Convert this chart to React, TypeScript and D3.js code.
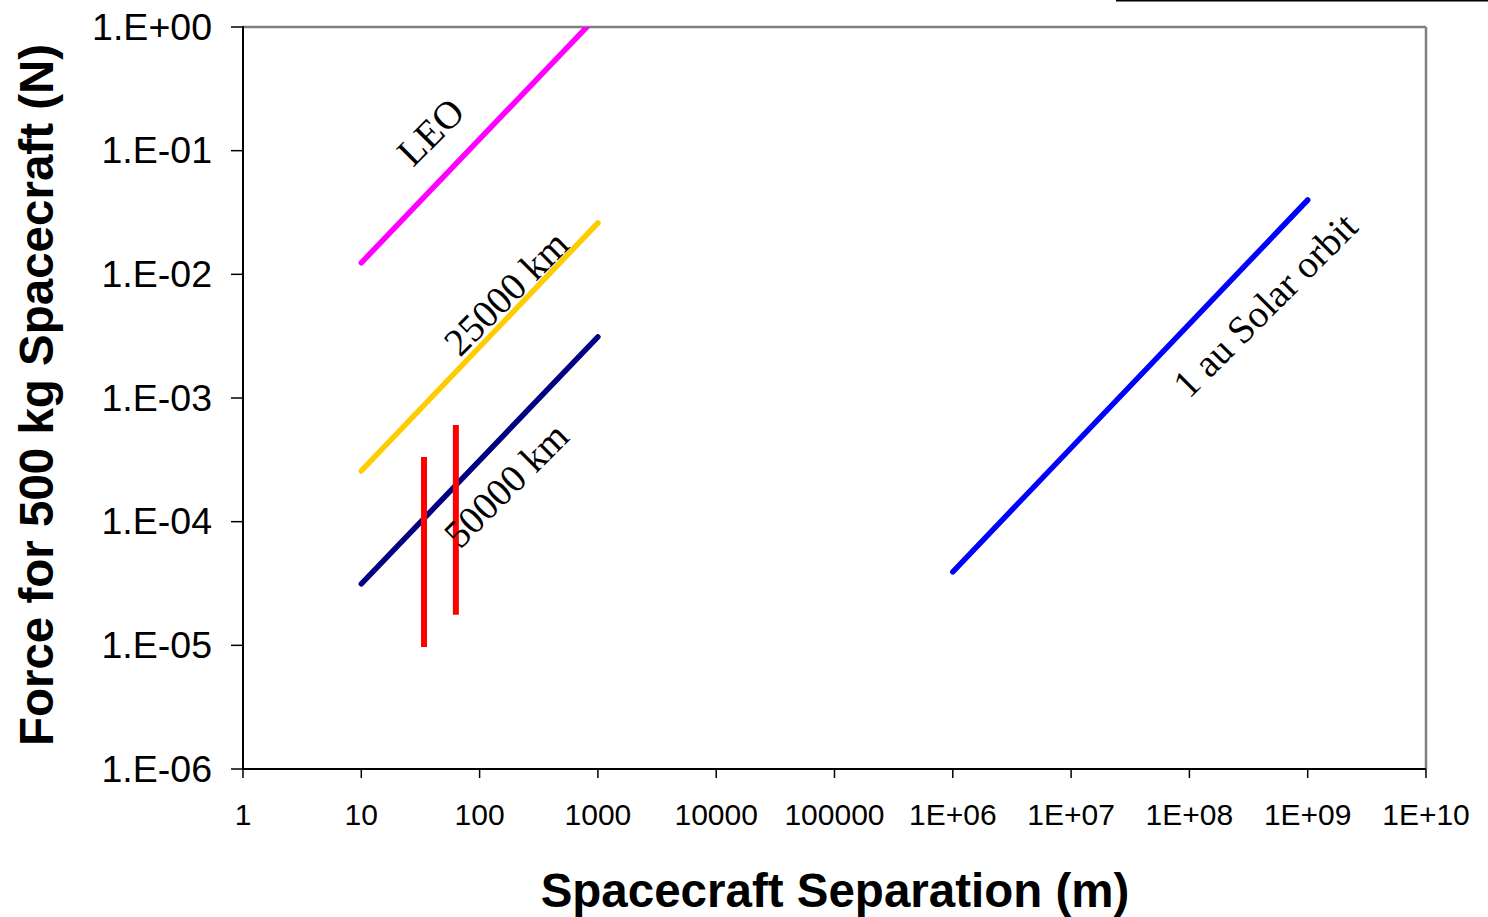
import React from 'react';
import * as d3 from 'd3';

// axis ticks
const xTickValues = [1, 10, 100, 1000, 1e4, 1e5, 1e6, 1e7, 1e8, 1e9, 1e10];
const xTickLabels = ['1', '10', '100', '1000', '10000', '100000', '1E+06', '1E+07', '1E+08', '1E+09', '1E+10'];
const yTickValues = [1, 1e-1, 1e-2, 1e-3, 1e-4, 1e-5, 1e-6];
const yTickLabels = ['1.E+00', '1.E-01', '1.E-02', '1.E-03', '1.E-04', '1.E-05', '1.E-06'];

// series: separation (m) -> force (N)
const leoX = [10, 1000];
const leoY = [0.0124, 1.24];
const geo25X = [10, 1000];
const geo25Y = [2.57e-4, 2.6e-2];
const geo50X = [10, 1000];
const geo50Y = [3.14e-5, 3.12e-3];
const solarX = [1e6, 1e9];
const solarY = [3.93e-5, 3.99e-2];

// vertical red markers
const markerX = [33.9, 63];
const markerLow = [9.7e-6, 1.77e-5];
const markerHigh = [3.34e-4, 6.05e-4];

// rotated labels anchored in data space
const labelText = ['LEO', '25000 km', '50000 km', '1 au Solar orbit'];
const labelX = [27.4, 68.3, 68.3, 9.93e7];
const labelY = [0.0724, 2.11e-3, 5.91e-5, 9.66e-4];

const W = 1488;
const H = 917;
const margin = { left: 243, right: 62, top: 27, bottom: 148 };

export default function App() {
    const x = d3.scaleLog().domain([1, 1e10]).range([margin.left, W - margin.right]);
    const y = d3.scaleLog().domain([1e-6, 1]).range([H - margin.bottom, margin.top]);
    const x0 = x.range()[0], x1 = x.range()[1];
    const y0 = y.range()[0], y1 = y.range()[1];

    const line = d3.line<[number, number]>()
        .x(d => x(d[0]))
        .y(d => y(d[1]));

    const series = [
        { xs: leoX, ys: leoY, color: '#FF00FF' },
        { xs: geo25X, ys: geo25Y, color: '#FFCC00' },
        { xs: geo50X, ys: geo50Y, color: '#000080' },
        { xs: solarX, ys: solarY, color: '#0000FF' },
    ];

    const sans = '"Liberation Sans", Arial, sans-serif';
    const serif = '"Liberation Serif", "Times New Roman", serif';

    return (
        <div style={{ position: 'absolute', left: 0, top: 0 }}>
            <svg width={W} height={H} style={{ display: 'block', background: '#fff' }}>
                <defs>
                    <clipPath id="plot">
                        <rect x={x0} y={y1} width={x1 - x0} height={y0 - y1} />
                    </clipPath>
                </defs>

                {/* stray legend border at the top */}
                <line x1={1116} x2={W} y1={0.8} y2={0.8} stroke="#000" strokeWidth={1.6} />

                {/* plot frame: top/right grey */}
                <line x1={x0} x2={x1} y1={y1} y2={y1} stroke="#808080" strokeWidth={2.5} />
                <line x1={x1} x2={x1} y1={y1} y2={y0} stroke="#808080" strokeWidth={2.5} />

                {/* series */}
                <g clipPath="url(#plot)">
                    {series.map((s, i) => (
                        <path key={i}
                            d={line(s.xs.map((v, j) => [v, s.ys[j]] as [number, number])) || ''}
                            fill="none" stroke={s.color} strokeWidth={5.5} strokeLinecap="round" />
                    ))}
                    {markerX.map((v, i) => (
                        <line key={i} x1={x(v)} x2={x(v)} y1={y(markerLow[i])} y2={y(markerHigh[i])}
                            stroke="#FF0000" strokeWidth={6} />
                    ))}
                </g>

                {/* labels */}
                {labelText.map((t, i) => (
                    <text key={i} x={x(labelX[i])} y={y(labelY[i])}
                        transform={`rotate(-45 ${x(labelX[i])} ${y(labelY[i])})`}
                        fontFamily={serif} fontSize={39} fill="#000">{t}</text>
                ))}

                {/* axes */}
                <line x1={x0} x2={x0} y1={y1 - 1} y2={y0} stroke="#000" strokeWidth={2} />
                <line x1={x0} x2={x1} y1={y0} y2={y0} stroke="#000" strokeWidth={2} />

                {yTickValues.map((v, i) => (
                    <g key={i}>
                        <line x1={x0 - 12} x2={x0} y1={y(v)} y2={y(v)} stroke="#000" strokeWidth={1.5} />
                        <text x={212} y={y(v) + 12.5} textAnchor="end" fontFamily={sans} fontSize={37.5} fill="#000">
                            {yTickLabels[i]}
                        </text>
                    </g>
                ))}

                {xTickValues.map((v, i) => (
                    <g key={i}>
                        <line x1={x(v)} x2={x(v)} y1={y0} y2={y0 + 9} stroke="#000" strokeWidth={1.5} />
                        <text x={x(v)} y={y0 + 56} textAnchor="middle" fontFamily={sans} fontSize={30} fill="#000">
                            {xTickLabels[i]}
                        </text>
                    </g>
                ))}

                {/* axis titles */}
                <text x={835} y={907} textAnchor="middle" fontFamily={sans} fontWeight="bold" fontSize={47.5} fill="#000">
                    Spacecraft Separation (m)
                </text>
                <text transform="translate(53 395) rotate(-90)" textAnchor="middle" fontFamily={sans}
                    fontWeight="bold" fontSize={47.5} fill="#000">
                    Force for 500 kg Spacecraft (N)
                </text>
            </svg>
        </div>
    );
}
